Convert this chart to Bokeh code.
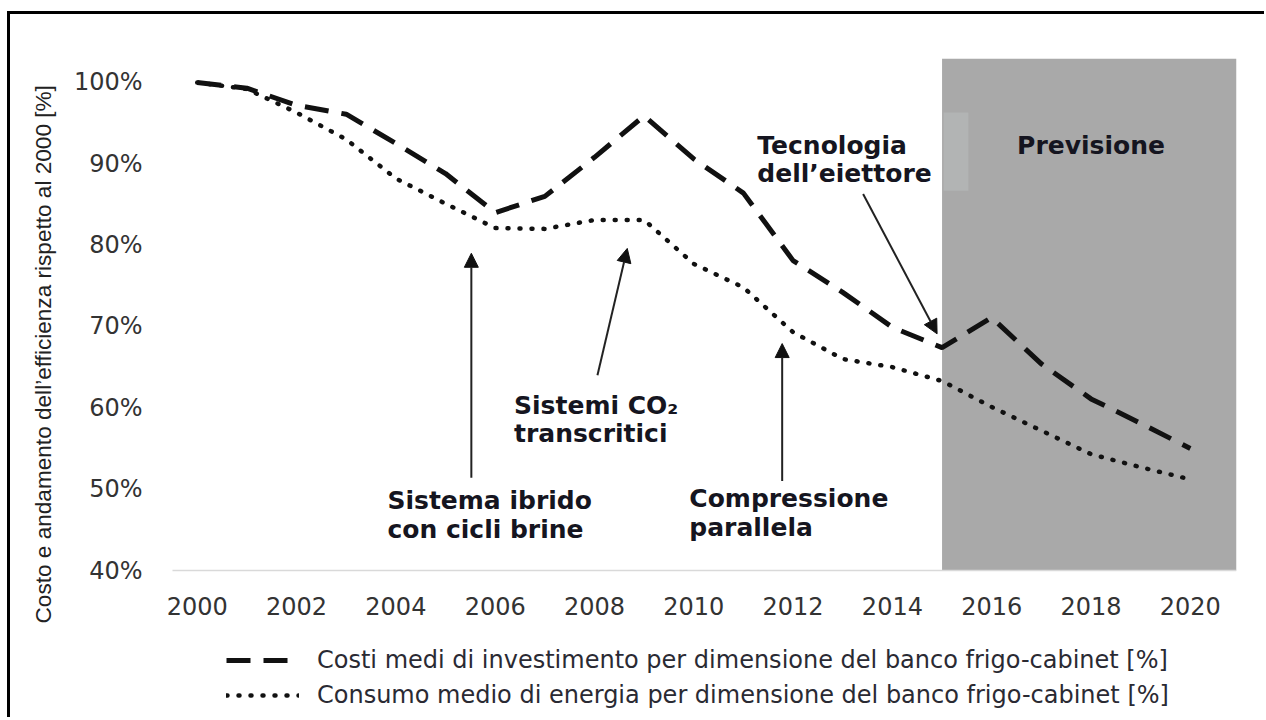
import math
from bokeh.plotting import figure
from bokeh.models import (FixedTicker, PrintfTickFormatter, Label, Arrow, NormalHead,
                          Legend, LegendItem, Title)
from bokeh.embed import file_html
from bokeh.resources import INLINE

# ---------------- data ----------------
years = list(range(2000, 2021))
cost_pct = [100, 99.3, 97.2, 96.1, 92.5, 88.8, 84.0, 86.0, 90.8, 95.9, 90.6,
            86.4, 78.1, 74.2, 69.9, 67.4, 71.1, 65.4, 61.1, 58.1, 55.0]
energy_pct = [100, 99.2, 96.3, 93.0, 88.2, 85.1, 82.1, 82.0, 83.1, 83.1, 77.7,
              74.8, 69.3, 66.0, 65.0, 63.3, 60.1, 57.2, 54.3, 52.7, 51.2]
x_tick_years = list(range(2000, 2021, 2))
y_ticks = [40, 50, 60, 70, 80, 90, 100]
forecast_span = [2015.0, 2020.93]
forecast_label = "Previsione"
legend_labels = [
    "Costi medi di investimento per dimensione del banco frigo-cabinet [%]",
    "Consumo medio di energia per dimensione del banco frigo-cabinet [%]",
]
y_title = "Costo e andamento dell\u2019efficienza rispetto al  2000 [%]"

# annotations: (lines, x-year, y-% of first line)
notes = [
    (["Sistema ibrido", "con cicli brine"], 2003.83, 48.6),
    (["Sistemi CO\u2082", "transcritici"], 2006.38, 60.3),
    (["Compressione", "parallela"], 2009.91, 48.8),
    (["Tecnologia", "dell\u2019eiettore"], 2011.28, 92.3),
]
# arrows: (x_start, y_start, x_end, y_end)
arrows = [
    (2005.52, 51.4, 2005.52, 79.0),
    (2008.06, 64.0, 2008.66, 79.6),
    (2011.78, 51.0, 2011.78, 67.9),
    (2013.41, 86.3, 2014.90, 69.1),
]

AXIS_BASE, Y_TOP = 40, 102.95
AXIS_START, X_MIN, X_MAX = 1999.5, 1999.3, 2020.93
PX_PER_YEAR = 1064 / (X_MAX - AXIS_START)
PX_PER_PCT = 512 / (Y_TOP - AXIS_BASE)
BELOW_PX = 144                      # room under the 40% line for labels + legend
Y_BOTTOM = AXIS_BASE - BELOW_PX / PX_PER_PCT
LEFT_PAD_PX = round((AXIS_START - X_MIN) * PX_PER_YEAR)
LINE_STEP = 3.5

p = figure(frame_width=1064 + LEFT_PAD_PX, frame_height=512 + BELOW_PX,
           x_range=(X_MIN, X_MAX), y_range=(Y_BOTTOM, Y_TOP),
           output_backend="svg", toolbar_location=None,
           min_border_left=162 - LEFT_PAD_PX, min_border_right=28, min_border_top=44,
           min_border_bottom=3)
p.styles = {"border-top": "3px solid black", "border-left": "3px solid black",
            "margin-left": "7px", "margin-top": "11px"}
p.outline_line_color = None
p.grid.visible = False
p.background_fill_color = "white"
p.border_fill_color = "white"

# forecast area
p.quad(left=[forecast_span[0]], right=[forecast_span[1]], bottom=[AXIS_BASE], top=[Y_TOP],
       fill_color="#a9a9a9", line_color=None)
p.quad(left=[2015.03], right=[2015.53], bottom=[86.7], top=[96.3],
       fill_color="#b2b4b4", line_color=None)

r_cost = p.line(years, cost_pct, line_color="#111111", line_width=5, line_dash="24 13")
r_energy = p.line(years, energy_pct, line_color="#111111", line_width=4.5,
                  line_dash="1 11", line_cap="round")

# axes
p.xaxis.fixed_location = AXIS_BASE
p.xaxis.bounds = (AXIS_START, X_MAX)
p.xaxis.ticker = FixedTicker(ticks=x_tick_years)
p.xaxis.axis_line_color = "#d9d9d9"
p.xaxis.axis_line_width = 1.5
p.xaxis.major_tick_line_color = None
p.xaxis.minor_tick_line_color = None
p.xaxis.major_label_standoff = 20
p.xaxis.major_label_text_font = "DejaVu Sans"
p.xaxis.major_label_text_font_size = "24px"
p.xaxis.major_label_text_color = "#333333"

p.yaxis.ticker = FixedTicker(ticks=y_ticks)
p.yaxis.formatter = PrintfTickFormatter(format="%d%%")
p.yaxis.axis_line_color = None
p.yaxis.major_tick_line_color = None
p.yaxis.minor_tick_line_color = None
p.yaxis.major_label_standoff = 24 - LEFT_PAD_PX
p.yaxis.major_label_text_font = "DejaVu Sans"
p.yaxis.major_label_text_font_size = "24px"
p.yaxis.major_label_text_color = "#333333"

# y title (starts at the same height as in the reference, below the 40% line)
p.add_layout(Title(text=y_title, align="left", offset=BELOW_PX - 53, standoff=30,
                   text_font="Liberation Sans", text_font_size="22.6px",
                   text_font_style="normal", text_color="#222222"), "left")

# annotations
for lines, nx, ny in notes:
    for i, line in enumerate(lines):
        p.add_layout(Label(x=nx, y=ny - i * LINE_STEP, text=line, text_align="left",
                           text_baseline="middle", text_font="DejaVu Sans",
                           text_font_style="bold", text_font_size="25px",
                           text_color="#151520"))
p.add_layout(Label(x=(2016.35 + 2019.65) / 2, y=92.3, text=forecast_label,
                   text_align="center", text_baseline="middle", text_font="DejaVu Sans",
                   text_font_style="bold", text_font_size="25px", text_color="#151520"))

for xs, ys, xe, ye in arrows:
    p.add_layout(Arrow(x_start=xs, y_start=ys, x_end=xe, y_end=ye,
                       line_color="#222222", line_width=2,
                       end=NormalHead(size=14, fill_color="#111111", line_color="#111111")))

legend = Legend(items=[LegendItem(label=legend_labels[0], renderers=[r_cost]),
                       LegendItem(label=legend_labels[1], renderers=[r_energy])],
                location=(54 + LEFT_PAD_PX, 5), orientation="vertical",
                label_text_font="DejaVu Sans", label_text_font_size="24px",
                label_text_color="#2a2a33", glyph_width=73, glyph_height=28,
                label_height=28, label_standoff=18, spacing=7, padding=0, margin=0,
                border_line_color=None, background_fill_alpha=0)
p.add_layout(legend, "center")

open("out.html", "w").write(file_html(p, INLINE))
